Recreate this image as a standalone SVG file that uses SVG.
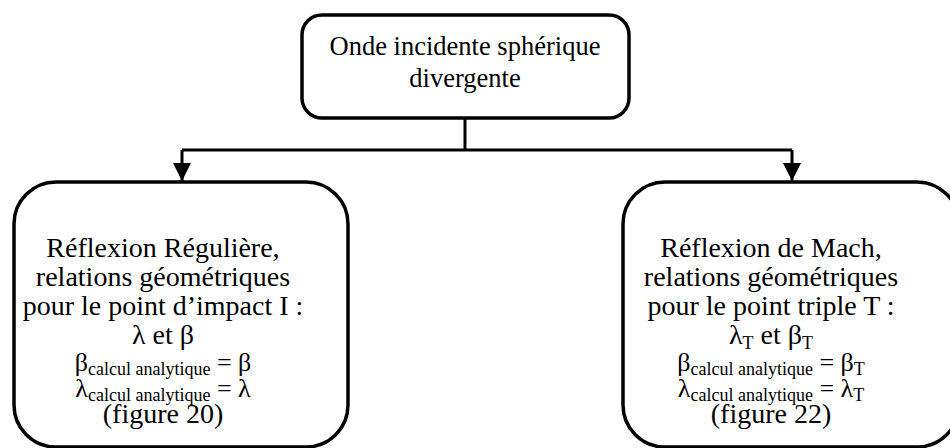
<svg xmlns="http://www.w3.org/2000/svg" width="950" height="448" viewBox="0 0 950 448">
<style>
.box{fill:#fff;stroke:#000;stroke-width:3.5}
.conn{fill:none;stroke:#000;stroke-width:3}
text{font-family:"Liberation Serif","Times New Roman",serif;fill:#000;text-anchor:middle}
.t{font-size:26.5px}
.b{font-size:28px}
.g{font-size:26px}
.s{font-size:18px}
</style>
<defs>
<marker id="arr" markerUnits="userSpaceOnUse" markerWidth="18" markerHeight="18" viewBox="0 0 18 18" refX="18" refY="9" orient="auto">
<path d="M0,0 L18,9 L0,18 Z" fill="#000"/>
</marker>
</defs>
<g id="connectors">
<path class="conn" d="M465,118 V150"/>
<path class="conn" d="M182,150 H792"/>
<path class="conn" d="M182,150 V181" marker-end="url(#arr)"/>
<path class="conn" d="M792,150 V181" marker-end="url(#arr)"/>
</g>
<g id="top">
<rect class="box" x="302" y="15" width="327" height="103" rx="20" ry="20"/>
<text class="t" x="465" y="55">Onde incidente sphérique</text>
<text class="t" x="465" y="87">divergente</text>
</g>
<g id="left">
<rect class="box" x="14" y="182" width="334" height="265" rx="42" ry="42"/>
<text class="b" x="163" y="257">Réflexion Régulière,</text>
<text class="b" x="163" y="286">relations géométriques</text>
<text class="b" x="163" y="315">pour le point d’impact I :</text>
<text class="b" x="163" y="344">λ et β</text>
<text class="g" x="163" y="371">β<tspan class="s" dy="4">calcul analytique</tspan><tspan dy="-4"> = β</tspan></text>
<text class="g" x="163" y="397">λ<tspan class="s" dy="4">calcul analytique</tspan><tspan dy="-4"> = λ</tspan></text>
<text class="b" x="163" y="423">(figure 20)</text>
</g>
<g id="right">
<rect class="box" x="623" y="182" width="336" height="265" rx="42" ry="42"/>
<text class="b" x="771" y="257">Réflexion de Mach,</text>
<text class="b" x="771" y="286">relations géométriques</text>
<text class="b" x="771" y="315">pour le point triple T :</text>
<text class="b" x="771" y="344">λ<tspan class="s" dy="5">T</tspan><tspan dy="-5"> et β</tspan><tspan class="s" dy="5">T</tspan></text>
<text class="g" x="771" y="371">β<tspan class="s" dy="4">calcul analytique</tspan><tspan dy="-4"> = β</tspan><tspan class="s" dy="4">T</tspan></text>
<text class="g" x="771" y="397">λ<tspan class="s" dy="4">calcul analytique</tspan><tspan dy="-4"> = λ</tspan><tspan class="s" dy="4">T</tspan></text>
<text class="b" x="771" y="423">(figure 22)</text>
</g>
</svg>
